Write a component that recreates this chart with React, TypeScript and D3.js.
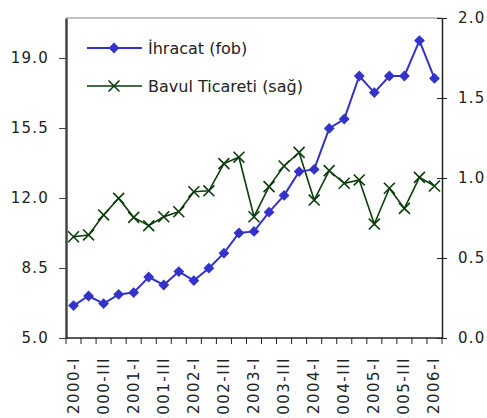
import React, { useEffect, useRef } from 'react';
import * as d3 from 'd3';

// çeyreklik dönemler
const quarters: string[] = [
  '2000-I', '2000-II', '2000-III', '2000-IV',
  '2001-I', '2001-II', '2001-III', '2001-IV',
  '2002-I', '2002-II', '2002-III', '2002-IV',
  '2003-I', '2003-II', '2003-III', '2003-IV',
  '2004-I', '2004-II', '2004-III', '2004-IV',
  '2005-I', '2005-II', '2005-III', '2005-IV',
  '2006-I'
];

const ihracat: number[] = [
  6.62, 7.1, 6.72, 7.18, 7.27, 8.05, 7.65, 8.32, 7.87, 8.49,
  9.24, 10.25, 10.33, 11.29, 12.13, 13.32, 13.43, 15.48, 15.95, 18.1,
  17.27, 18.1, 18.1, 19.87, 17.98
];

const bavul: number[] = [
  0.633, 0.644, 0.769, 0.873, 0.754, 0.702, 0.758, 0.789, 0.914, 0.92,
  1.09, 1.13, 0.758, 0.946, 1.075, 1.16, 0.862, 1.046, 0.967, 0.988,
  0.712, 0.936, 0.81, 1.004, 0.95
];

const leftTicks: number[] = [5.0, 8.5, 12.0, 15.5, 19.0];
const rightTicks: number[] = [0.0, 0.5, 1.0, 1.5, 2.0];
const xLabels: string[] = quarters.filter((_, i) => i % 2 === 0);

const legendLabels: string[] = ['İhracat (fob)', 'Bavul Ticareti (sağ)'];

const W = 487;
const H = 418;
const FONT = '"DejaVu Sans", sans-serif';
const BLUE = '#3333cc';
const GREEN = '#0a3d0a';

const App: React.FC = () => {
  const svgRef = useRef<SVGSVGElement>(null);

  useEffect(() => {
    if (!svgRef.current) return;
    const svg = d3.select(svgRef.current);
    svg.selectAll('*').remove();

    const left = 66, right = 442, top = 18, bottom = 338;

    const x = d3.scaleBand<string>().domain(quarters).range([left, right]);
    const yL = d3.scaleLinear().domain([5, 21]).range([bottom, top]);
    const yR = d3.scaleLinear().domain([0, 2]).range([bottom, top]);
    const cx = (i: number) => (x(quarters[i]) as number) + x.bandwidth() / 2;

    // çerçeve üst çizgi
    svg.append('line')
      .attr('x1', left).attr('x2', right)
      .attr('y1', top).attr('y2', top)
      .attr('stroke', '#888').attr('stroke-width', 1);

    // sol eksen
    const gl = svg.append('g').attr('transform', `translate(${left},0)`)
      .call(d3.axisLeft(yL).tickValues(leftTicks).tickSize(7).tickSizeOuter(0).tickFormat(d3.format('.1f')));
    gl.select('.domain').attr('stroke', '#444').attr('stroke-width', 2.5);
    gl.selectAll('.tick line').attr('stroke', '#444');
    gl.selectAll('text')
      .attr('font-family', FONT).attr('font-size', 15).attr('fill', '#222')
      .attr('letter-spacing', 1.2).attr('x', -17);

    // sağ eksen
    const gr = svg.append('g').attr('transform', `translate(${right},0)`)
      .call(d3.axisRight(yR).tickValues(rightTicks).tickSize(5).tickSizeOuter(0).tickFormat(d3.format('.1f')));
    gr.select('.domain').attr('stroke', '#222').attr('stroke-width', 1.5);
    gr.selectAll('.tick line').attr('stroke', '#222').attr('x1', -5);
    gr.selectAll('text')
      .attr('font-family', FONT).attr('font-size', 15).attr('fill', '#222')
      .attr('letter-spacing', 1.2).attr('x', 16);

    // alt eksen
    const gb = svg.append('g').attr('transform', `translate(0,${bottom})`);
    gb.append('line')
      .attr('x1', left).attr('x2', right)
      .attr('stroke', '#222').attr('stroke-width', 1.5);
    gb.selectAll('line.t')
      .data(quarters.concat(['end']))
      .enter().append('line')
      .attr('class', 't')
      .attr('x1', (_, i) => left + i * x.step())
      .attr('x2', (_, i) => left + i * x.step())
      .attr('y1', 0).attr('y2', 6)
      .attr('stroke', '#222');
    gb.selectAll('text')
      .data(xLabels)
      .enter().append('text')
      .attr('transform', d => `translate(${(x(d) as number) + x.bandwidth() / 2 + 5},19) rotate(-90)`)
      .attr('text-anchor', 'end')
      .attr('font-family', FONT).attr('font-size', 15).attr('fill', '#222')
      .attr('letter-spacing', 1.5)
      .text(d => d);

    // bavul ticareti
    const lineR = d3.line<number>().x((_, i) => cx(i)).y(d => yR(d));
    svg.append('path').datum(bavul)
      .attr('d', lineR).attr('fill', 'none')
      .attr('stroke', GREEN).attr('stroke-width', 1.6);
    const cross = d3.symbol().type(d3.symbolX).size(80);
    svg.selectAll('path.x')
      .data(bavul)
      .enter().append('path')
      .attr('class', 'x')
      .attr('transform', (d, i) => `translate(${cx(i)},${yR(d)})`)
      .attr('d', cross)
      .attr('fill', 'none').attr('stroke', GREEN).attr('stroke-width', 1.6);

    // ihracat
    const lineL = d3.line<number>().x((_, i) => cx(i)).y(d => yL(d));
    svg.append('path').datum(ihracat)
      .attr('d', lineL).attr('fill', 'none')
      .attr('stroke', BLUE).attr('stroke-width', 2);
    const diamond = d3.symbol().type(d3.symbolDiamond2).size(75);
    svg.selectAll('path.d')
      .data(ihracat)
      .enter().append('path')
      .attr('class', 'd')
      .attr('transform', (d, i) => `translate(${cx(i)},${yL(d)})`)
      .attr('d', diamond)
      .attr('fill', BLUE);

    // lejant
    const lg = svg.append('g');
    legendLabels.forEach((label, i) => {
      const ly = 48 + i * 38;
      const color = i === 0 ? BLUE : GREEN;
      lg.append('line')
        .attr('x1', 87).attr('x2', 142).attr('y1', ly).attr('y2', ly)
        .attr('stroke', color).attr('stroke-width', i === 0 ? 2 : 1.6);
      lg.append('path')
        .attr('transform', `translate(114,${ly})`)
        .attr('d', i === 0 ? diamond : cross)
        .attr('fill', i === 0 ? BLUE : 'none')
        .attr('stroke', i === 0 ? 'none' : GREEN)
        .attr('stroke-width', 1.6);
      lg.append('text')
        .attr('x', 148).attr('y', ly + 6)
        .attr('font-family', FONT).attr('font-size', 16).attr('fill', '#222')
        .text(label);
    });
  }, []);

  return (
    <svg
      ref={svgRef}
      width={W}
      height={H}
      style={{ position: 'absolute', left: 0, top: 0, background: '#fff' }}
    />
  );
};

export default App;
